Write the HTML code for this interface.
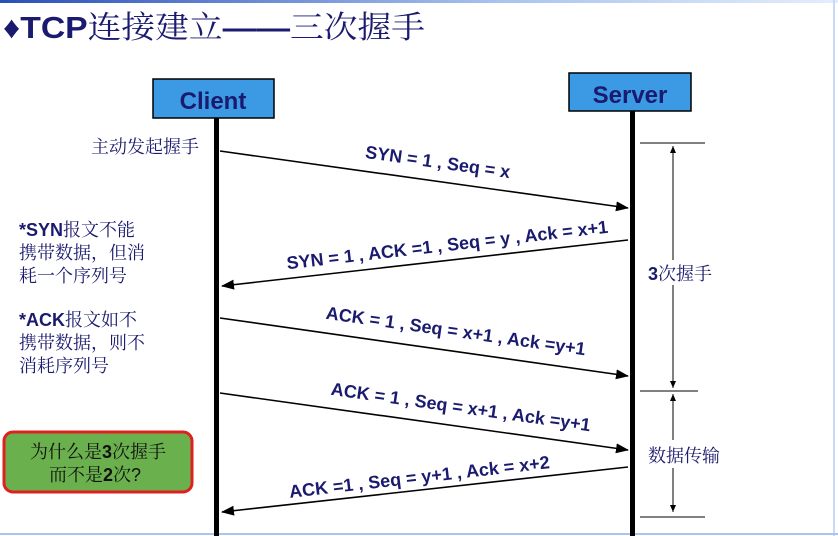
<!DOCTYPE html>
<html><head><meta charset="utf-8"><style>
html,body{margin:0;padding:0;background:#fff;width:838px;height:536px;overflow:hidden}
svg{display:block}
.t{font-family:"Liberation Sans","Noto Serif CJK SC",serif;fill:#1a1a6e}
.b{font-weight:bold}
</style></head><body>
<svg width="838" height="536" viewBox="0 0 838 536" xmlns="http://www.w3.org/2000/svg">
<defs>
<linearGradient id="g" x1="0" x2="1"><stop offset="0" stop-color="#2a4fb8"/><stop offset="0.6" stop-color="#a9c4ee"/><stop offset="1" stop-color="#e4eefb"/></linearGradient>
<marker id="a" markerWidth="13" markerHeight="10" refX="12" refY="5" orient="auto" markerUnits="userSpaceOnUse"><path d="M0,0 L13,5 L0,10 Z" fill="#000"/></marker>
<marker id="s" markerWidth="8" markerHeight="8" refX="7" refY="4" orient="auto" markerUnits="userSpaceOnUse"><path d="M0,1 L7,4 L0,7 Z" fill="#000"/></marker>
</defs>
<rect x="0" y="0" width="838" height="3" fill="url(#g)"/>
<rect x="833" y="0" width="2" height="536" fill="#c8daf5"/>
<rect x="0" y="533" width="838" height="2" fill="#a9c4ee"/>
<text x="3" y="38" class="t b" font-size="31" textLength="422" lengthAdjust="spacingAndGlyphs">♦TCP<tspan font-weight="normal">连接建立</tspan>——<tspan font-weight="normal">三次握手</tspan></text>
<rect x="153" y="79" width="121" height="39" fill="#3c9ae4" stroke="#000" stroke-width="1.5"/>
<text x="213" y="109" text-anchor="middle" class="t b" font-size="24">Client</text>
<rect x="569" y="73" width="122" height="38" fill="#3c9ae4" stroke="#000" stroke-width="1.5"/>
<text x="630" y="103" text-anchor="middle" class="t b" font-size="24">Server</text>
<rect x="214" y="118" width="5" height="418" fill="#000"/>
<rect x="630" y="111" width="5" height="425" fill="#000"/>
<g stroke="#000" stroke-width="1.6" fill="none">
<line x1="220" y1="151" x2="628" y2="208" marker-end="url(#a)"/>
<line x1="628" y1="240" x2="222" y2="286" marker-end="url(#a)"/>
<line x1="220" y1="318" x2="628" y2="376" marker-end="url(#a)"/>
<line x1="220" y1="393" x2="628" y2="450" marker-end="url(#a)"/>
<line x1="628" y1="467" x2="222" y2="512" marker-end="url(#a)"/>
</g>
<g class="t b" font-size="18" text-anchor="middle">
<text transform="translate(437,168) rotate(8)">SYN = 1 ,  Seq = x</text>
<text transform="translate(448,251) rotate(-6.5)">SYN = 1 , ACK =1 , Seq = y , Ack = x+1</text>
<text transform="translate(455,337) rotate(8)">ACK = 1 , Seq = x+1 , Ack =y+1</text>
<text transform="translate(460,413) rotate(8)">ACK = 1 , Seq = x+1 , Ack =y+1</text>
<text transform="translate(420,483) rotate(-6.5)">ACK =1 , Seq = y+1 , Ack = x+2</text>
</g>
<g stroke="#000" stroke-width="1" fill="none">
<line x1="640" y1="143" x2="705" y2="143"/>
<line x1="640" y1="391" x2="698" y2="391"/>
<line x1="640" y1="517" x2="705" y2="517"/>
<line x1="673" y1="260" x2="673" y2="146" marker-end="url(#s)"/>
<line x1="673" y1="285" x2="673" y2="388" marker-end="url(#s)"/>
<line x1="673" y1="440" x2="673" y2="394" marker-end="url(#s)"/>
<line x1="673" y1="468" x2="673" y2="512" marker-end="url(#s)"/>
</g>
<rect x="646" y="261" width="72" height="24" fill="#fff"/>
<text x="648" y="280" class="t" font-size="18"><tspan font-weight="bold">3</tspan>次握手</text>
<rect x="646" y="442" width="82" height="26" fill="#fff"/>
<text x="648" y="462" class="t" font-size="18">数据传输</text>
<g class="t" font-size="18">
<text x="91" y="153">主动发起握手</text>
<text x="19" y="236"><tspan font-weight="bold">*SYN</tspan>报文不能</text>
<text x="19" y="259">携带数据，但消</text>
<text x="19" y="282">耗一个序列号</text>
<text x="19" y="326"><tspan font-weight="bold">*ACK</tspan>报文如不</text>
<text x="19" y="349">携带数据，则不</text>
<text x="19" y="372">消耗序列号</text>
</g>
<rect x="4" y="432" width="188" height="60" rx="9" fill="#6ab04c" stroke="#e02020" stroke-width="3"/>
<text x="98" y="458" text-anchor="middle" class="t" font-size="18" style="fill:#111">为什么是<tspan font-weight="bold">3</tspan>次握手</text>
<text x="95" y="481" text-anchor="middle" class="t" font-size="18" style="fill:#111">而不是<tspan font-weight="bold">2</tspan>次?</text>
</svg>
</body></html>
